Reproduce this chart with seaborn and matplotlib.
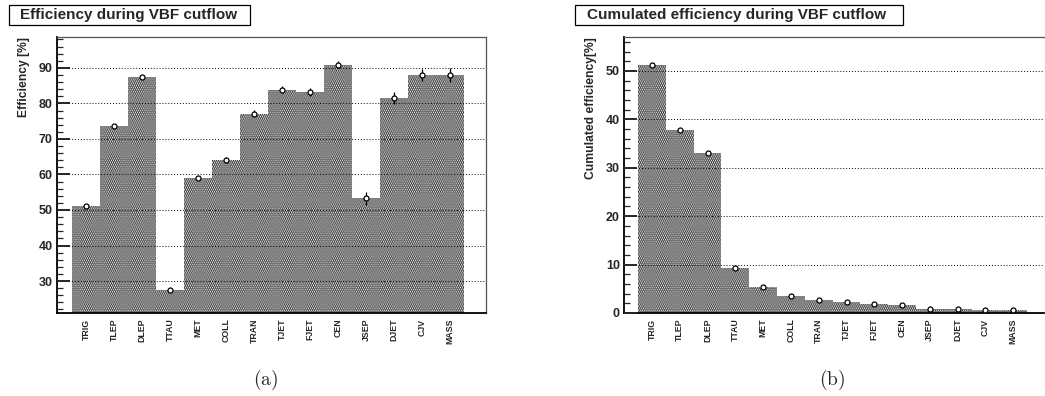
import matplotlib
matplotlib.use("Agg")
import matplotlib.pyplot as plt
from matplotlib.patches import Rectangle
from matplotlib.ticker import MultipleLocator
import seaborn as sns
import pandas as pd

cuts = ["TRIG", "TLEP", "DLEP", "TTAU", "MET", "COLL", "TRAN",
        "TJET", "FJET", "CEN", "JSEP", "DJET", "CJV", "MASS"]

# per-cut efficiency [%] and its uncertainty
eff = [51.2, 73.7, 87.5, 27.5, 59.0, 64.0, 77.1, 83.8, 83.2, 90.9, 53.3, 81.5, 88.0, 88.0]
eff_err = [0.3, 0.3, 0.3, 0.3, 0.5, 0.8, 1.0, 1.0, 1.2, 1.0, 1.8, 1.8, 1.8, 2.0]

# cumulated efficiency [%] and its uncertainty
cum = [51.2, 37.7, 33.0, 9.2, 5.4, 3.5, 2.7, 2.3, 1.9, 1.7, 0.9, 0.75, 0.65, 0.6]
cum_err = [0.2, 0.2, 0.2, 0.15, 0.12, 0.1, 0.1, 0.1, 0.1, 0.1, 0.08, 0.08, 0.08, 0.08]

titles = ["Efficiency during VBF cutflow", "Cumulated efficiency during VBF cutflow"]
ylabels = ["Efficiency [%]", "Cumulated efficiency[%]"]
captions = ["(a)", "(b)"]

sns.set_theme(style="white")
plt.rcParams["font.family"] = ["Liberation Sans", "DejaVu Sans"]
plt.rcParams["mathtext.fontset"] = "cm"
plt.rcParams["hatch.linewidth"] = 1.25

W, H = 1045, 396
fig = plt.figure(figsize=(W / 100, H / 100), dpi=100)

panels = [
    dict(rect=[0.0545, 0.2096, 0.4105, 0.697], vals=eff, errs=eff_err,
         ylim=(21.0, 98.7), xlim=(-1.04, 14.29),
         box=(9, 250), text_x=20, cap_x=0.2536, right_spine=True),
    dict(rect=[0.5971, 0.2096, 0.402, 0.697], vals=cum, errs=cum_err,
         ylim=(0.0, 57.0), xlim=(-1.01, 14.11),
         box=(575, 903), text_x=587, cap_x=0.7958, right_spine=False),
]

for i, p in enumerate(panels):
    ax = fig.add_axes(p["rect"])
    df = pd.DataFrame({"cut": cuts, "value": p["vals"]})
    sns.barplot(data=df, x="cut", y="value", order=cuts, width=1.0,
                color="white", edgecolor="#262626", linewidth=0,
                ax=ax, zorder=2)
    for patch in ax.patches:
        patch.set_facecolor("white")
        patch.set_hatch("........")
        patch.set_edgecolor("#262626")
        patch.set_linewidth(0)

    ax.errorbar(range(len(cuts)), p["vals"], yerr=p["errs"], fmt="o",
                mfc="white", mec="black", ms=3.6, mew=0.9, ecolor="black",
                elinewidth=0.9, capsize=0, zorder=4)

    ax.set_xlim(*p["xlim"])
    ax.set_ylim(*p["ylim"])
    ax.yaxis.set_major_locator(MultipleLocator(10))
    ax.yaxis.set_minor_locator(MultipleLocator(2))
    ax.grid(axis="y", which="major", color="black", linestyle=(0, (1, 2)),
            linewidth=0.7)
    ax.set_axisbelow(False)

    ax.tick_params(axis="y", which="major", direction="in", length=9,
                   width=1.4, left=True, labelsize=9, pad=3)
    ax.tick_params(axis="y", which="minor", direction="in", length=4.5,
                   width=0.9, left=True)
    ax.tick_params(axis="x", which="both", length=0, pad=4)
    for lab in ax.get_yticklabels():
        lab.set_fontweight("bold")
    ax.set_xticks(range(len(cuts)))
    ax.set_xticklabels(cuts, rotation=90, fontsize=6.3, fontweight="bold")

    ax.set_xlabel("")
    ax.set_ylabel(ylabels[i], fontsize=8.7, fontweight="bold", labelpad=6,
                  loc="top")

    ax.spines["left"].set_linewidth(1.3)
    ax.spines["bottom"].set_linewidth(1.3)
    ax.spines["left"].set_color("black")
    ax.spines["bottom"].set_color("black")
    ax.spines["top"].set_linewidth(0.9)
    ax.spines["top"].set_color("#555555")
    ax.spines["right"].set_linewidth(0.9)
    ax.spines["right"].set_color("#555555")
    ax.spines["right"].set_visible(p["right_spine"])

    # framed title box in the ROOT style
    x0, x1 = p["box"]
    fig.add_artist(Rectangle((x0 / W, 1 - 25 / H), (x1 - x0) / W, 20 / H,
                             transform=fig.transFigure, facecolor="white",
                             edgecolor="black", linewidth=0.9))
    fig.text(p["text_x"] / W, 1 - 15.5 / H, titles[i], fontsize=11,
             fontweight="bold", ha="left", va="center")

    fig.text(p["cap_x"], 0.04, r"$\mathrm{" + captions[i] + "}$",
             fontsize=14, ha="center", va="center")

fig.savefig("out.png", dpi=100)
